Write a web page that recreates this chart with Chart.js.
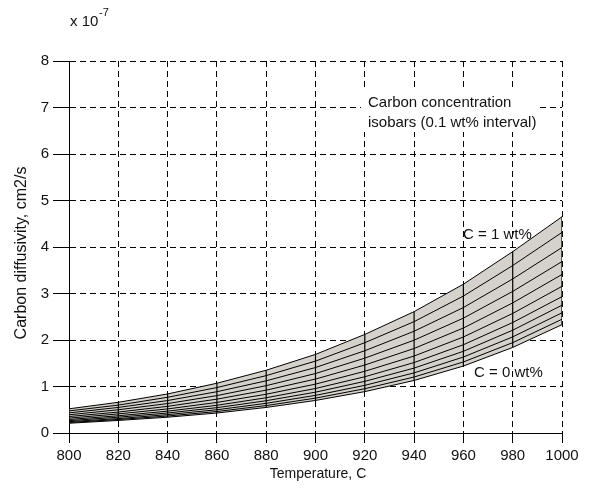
<!DOCTYPE html>
<html>
<head>
<meta charset="utf-8">
<script src="https://cdn.jsdelivr.net/npm/chart.js@4"></script>
<style>
html,body{margin:0;padding:0;background:#fff;}
#wrap{width:592px;height:489px;position:relative;}
</style>
</head>
<body>
<div id="wrap"><canvas id="c" width="592" height="489"></canvas></div>
<script>
// Temperatures (C)
const temperatures = [800, 820, 840, 860, 880, 900, 920, 940, 960, 980, 1000];
// Carbon concentration isobar labels (wt%)
const concentrations = ['0', '0.1', '0.2', '0.3', '0.4', '0.5', '0.6', '0.7', '0.8', '0.9', '1'];
// Diffusivity (x 1e-7 cm2/s) per isobar, at each temperature
const D_c00 = [0.21, 0.27, 0.34, 0.43, 0.55, 0.70, 0.89, 1.13, 1.44, 1.84, 2.33];
const D_c01 = [0.226, 0.29, 0.365, 0.462, 0.59, 0.75, 0.952, 1.204, 1.528, 1.943, 2.446];
const D_c02 = [0.244, 0.31, 0.395, 0.50, 0.638, 0.809, 1.025, 1.293, 1.634, 2.067, 2.585];
const D_c03 = [0.266, 0.34, 0.43, 0.545, 0.694, 0.878, 1.111, 1.396, 1.757, 2.211, 2.748];
const D_c04 = [0.291, 0.37, 0.47, 0.596, 0.758, 0.957, 1.21, 1.515, 1.898, 2.376, 2.933];
const D_c05 = [0.320, 0.41, 0.518, 0.657, 0.834, 1.051, 1.327, 1.655, 2.065, 2.571, 3.154];
const D_c06 = [0.354, 0.45, 0.573, 0.728, 0.922, 1.16, 1.462, 1.818, 2.258, 2.798, 3.409];
const D_c07 = [0.391, 0.50, 0.633, 0.804, 1.018, 1.279, 1.61, 1.996, 2.47, 3.045, 3.687];
const D_c08 = [0.432, 0.55, 0.698, 0.888, 1.122, 1.408, 1.769, 2.188, 2.698, 3.313, 3.989];
const D_c09 = [0.475, 0.60, 0.768, 0.977, 1.234, 1.546, 1.942, 2.395, 2.945, 3.601, 4.314];
const D_c10 = [0.52, 0.66, 0.84, 1.07, 1.35, 1.69, 2.12, 2.61, 3.20, 3.90, 4.65];
// Tick labels
const xTicks = [800, 820, 840, 860, 880, 900, 920, 940, 960, 980, 1000];
const yTicks = [0, 1, 2, 3, 4, 5, 6, 7, 8];

const isobars = [D_c00, D_c01, D_c02, D_c03, D_c04, D_c05, D_c06, D_c07, D_c08, D_c09, D_c10];
const FONT = "'Liberation Sans', Arial, sans-serif";

const datasets = [];
isobars.forEach((arr, k) => {
  datasets.push({
    label: 'C = ' + concentrations[k] + ' wt%',
    data: temperatures.map((t, i) => ({x: t, y: arr[i]})),
    borderColor: '#000',
    borderWidth: 1,
    pointRadius: 0,
    tension: 0,
    fill: k === isobars.length - 1 ? 0 : false,
    backgroundColor: '#d5d2cb'
  });
});
// mesh lines along concentration at each temperature
temperatures.forEach((t, i) => {
  datasets.push({
    label: 'T' + t,
    data: isobars.map(arr => ({x: t, y: arr[i]})),
    borderColor: '#000',
    borderWidth: 1.2,
    pointRadius: 0,
    fill: false
  });
});

const textPlugin = {
  id: 'texts',
  afterDraw(chart) {
    const ctx = chart.ctx;
    ctx.save();
    ctx.fillStyle = '#111';
    // exponent
    ctx.font = '15px ' + FONT;
    ctx.textBaseline = 'alphabetic';
    ctx.textAlign = 'left';
    ctx.fillText('x 10', 70, 26);
    ctx.font = '11px ' + FONT;
    ctx.fillText('-7', 99, 16);
    // axis titles
    ctx.font = '14px ' + FONT;
    ctx.textAlign = 'center';
    ctx.textBaseline = 'middle';
    ctx.fillText('Temperature, C', 318, 474);
    ctx.save();
    ctx.translate(22, 253);
    ctx.rotate(-Math.PI / 2);
    ctx.font = '16px ' + FONT;
    ctx.fillText('Carbon diffusivity, cm2/s', 0, 0);
    ctx.restore();
    // annotations
    ctx.font = '15px ' + FONT;
    ctx.textAlign = 'left';
    ctx.fillStyle = '#fff';
    ctx.fillRect(361, 87, 178, 45);
    ctx.fillStyle = '#111';
    ctx.fillText('Carbon concentration', 368, 103);
    ctx.fillText('isobars (0.1 wt% interval)', 368, 123);
    ctx.fillText('C = 1 wt%', 463, 235);
    ctx.fillText('C = 0 wt%', 474, 373);
    ctx.restore();
  }
};

new Chart(document.getElementById('c'), {
  type: 'line',
  data: {datasets},
  options: {
    responsive: false,
    animation: false,
    layout: {padding: {left: 0, right: 30, top: 61, bottom: 0}},
    plugins: {
      legend: {display: false},
      tooltip: {enabled: false},
      filler: {drawTime: 'beforeDatasetsDraw'}
    },
    scales: {
      x: {
        type: 'linear',
        min: 800, max: 1000,
        afterBuildTicks(s) { s.ticks = xTicks.map(v => ({value: v})); },
        afterFit(s) { s.height = 56; },
        ticks: {font: {size: 15, family: FONT}, color: '#111', padding: 4, maxRotation: 0, autoSkip: false,
                callback: v => String(v)},
        grid: {color: '#000', lineWidth: 1, tickLength: 10, tickColor: '#000', tickBorderDash: []},
        border: {display: true, color: '#000', width: 1, dash: [6, 4]}
      },
      y: {
        type: 'linear',
        min: 0, max: 8,
        afterBuildTicks(s) { s.ticks = yTicks.map(v => ({value: v})); },
        afterFit(s) { s.width = 69; },
        ticks: {font: {size: 15, family: FONT}, color: '#111', padding: 4, callback: v => String(v)},
        grid: {color: '#000', lineWidth: 1, tickLength: 16, tickColor: '#000', tickBorderDash: []},
        border: {display: true, color: '#000', width: 1, dash: [6, 4]}
      }
    }
  },
  plugins: [textPlugin]
});
</script>
</body>
</html>
